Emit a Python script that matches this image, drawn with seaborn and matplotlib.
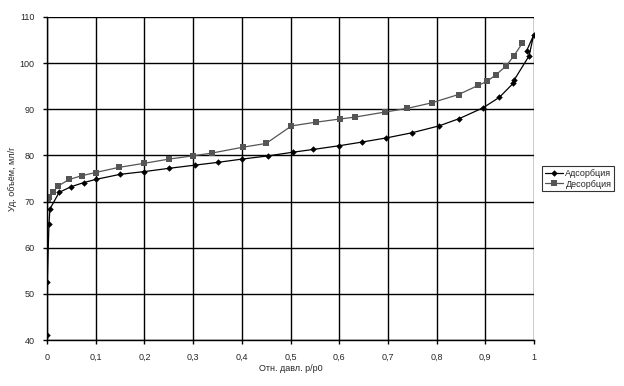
import numpy as np
import pandas as pd
import matplotlib
matplotlib.use("Agg")
import matplotlib.pyplot as plt
import seaborn as sns
from matplotlib.ticker import MultipleLocator, FuncFormatter

# Adsorption branch (relative pressure, volume ml/g)
ads_p = [0.0, 0.0005, 0.004, 0.006, 0.025, 0.049, 0.075, 0.1, 0.15, 0.2, 0.25, 0.304,
         0.351, 0.4, 0.454, 0.505, 0.547, 0.6, 0.647, 0.697, 0.749, 0.805, 0.847,
         0.895, 0.929, 0.957, 0.959, 0.99, 0.999, 0.985]
ads_v = [41.1, 52.6, 65.1, 68.4, 72.0, 73.2, 74.1, 74.8, 75.9, 76.5, 77.2, 77.9,
         78.5, 79.2, 79.9, 80.7, 81.3, 82.1, 82.9, 83.8, 84.9, 86.4, 88.0,
         90.3, 92.6, 95.6, 96.3, 101.6, 106.0, 102.7]

# Desorption branch
des_p = [0.003, 0.004, 0.013, 0.023, 0.046, 0.071, 0.1, 0.147, 0.2, 0.25, 0.299,
         0.338, 0.403, 0.45, 0.502, 0.552, 0.602, 0.632, 0.694, 0.74, 0.79, 0.845,
         0.886, 0.904, 0.921, 0.943, 0.958, 0.976]
des_v = [70.6, 70.9, 72.1, 73.4, 74.8, 75.6, 76.3, 77.4, 78.3, 79.2, 79.9,
         80.5, 81.8, 82.6, 86.4, 87.2, 87.9, 88.3, 89.4, 90.2, 91.4, 93.2,
         95.2, 96.1, 97.4, 99.4, 101.5, 104.3]

series_names = ["Адсорбция", "Десорбция"]

sns.set_style("white")
plt.rcParams['font.family'] = ['Liberation Sans', 'DejaVu Sans']

fig = plt.figure(figsize=(6.24, 3.86), dpi=100)
ax = fig.add_axes([47 / 624, 1 - 340 / 386, 487 / 624, 323 / 386])

# draw grid first so the curves sit on top
ax.set_axisbelow(True)

sns.lineplot(x=ads_p, y=ads_v, sort=False, estimator=None, color="black",
             marker="D", markersize=3.3, markeredgewidth=0, linewidth=0.9,
             label=series_names[0], ax=ax)
sns.lineplot(x=des_p, y=des_v, sort=False, estimator=None, color="#555555",
             marker="s", markersize=4.8, markeredgewidth=0, linewidth=0.9,
             label=series_names[1], ax=ax)

ax.set_xlim(0, 1)
ax.set_ylim(40, 110)
ax.xaxis.set_major_locator(MultipleLocator(0.1))
ax.yaxis.set_major_locator(MultipleLocator(10))
ax.xaxis.set_major_formatter(FuncFormatter(
    lambda x, pos: ("%g" % round(x, 1)).replace(".", ",")))
ax.grid(True, color="black", linewidth=1)
for side in ["top", "right"]:
    ax.spines[side].set_visible(False)
for side in ["left", "bottom"]:
    ax.spines[side].set_color("black")
    ax.spines[side].set_linewidth(1)
ax.tick_params(axis="both", direction="out", length=3, width=1, color="black",
               labelsize=6.5, pad=6, bottom=True, left=True)

ax.set_xlabel("Отн. давл. р/р0", fontsize=6.5, labelpad=2)
ax.set_ylabel("Уд. объём, мл/г", fontsize=6.5, labelpad=2)

leg = ax.legend(loc="upper left", bbox_to_anchor=(542 / 624, 1 - 166 / 386),
                bbox_transform=fig.transFigure, fontsize=6.5, frameon=True,
                fancybox=False, edgecolor="black", borderpad=0.3,
                handlelength=2.0, handletextpad=0.3, labelspacing=0.2,
                borderaxespad=0)
leg.get_frame().set_linewidth(0.8)

fig.savefig("out.png", dpi=100, facecolor="white")
